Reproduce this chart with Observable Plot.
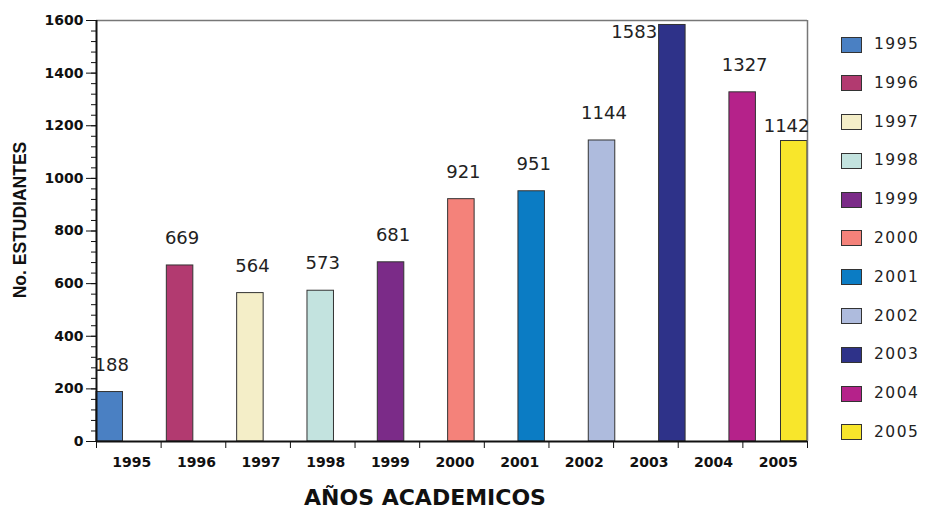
<!DOCTYPE html>
<html>
<head>
<meta charset="utf-8">
<script src="https://cdn.jsdelivr.net/npm/d3@7"></script>
<script src="https://cdn.jsdelivr.net/npm/@observablehq/plot@0.6"></script>
<style>
  body { margin: 0; background: #fff; }
  #wrap { position: relative; width: 926px; height: 508px; font-family: "DejaVu Sans", sans-serif; }
  #legend { position: absolute; left: 841px; top: 37px; }
  .item { display: flex; align-items: center; height: 15px; margin-bottom: 23.8px; }
  .sw { width: 19px; height: 14px; border: 1px solid #333; box-sizing: content-box; margin-right: 12px; }
  .lab { font-size: 15.5px; letter-spacing: 1.5px; color: #222; line-height: 15px; }
</style>
</head>
<body>
<div id="wrap"><div id="chart"></div><div id="legend"></div></div>
<script>
const years = ["1995","1996","1997","1998","1999","2000","2001","2002","2003","2004","2005"];
const students = [188, 669, 564, 573, 681, 921, 951, 1144, 1583, 1327, 1142];
const colors = ["#4a80c3","#b23a70","#f4eec8","#c3e3df","#7b2b88","#f4827a","#0b7cc4","#aebbdd","#2e3289","#b5228a","#f8e62b"];
const yMajorTicks = [0, 200, 400, 600, 800, 1000, 1200, 1400, 1600];
const yTitle = "No. ESTUDIANTES";
const xTitle = "AÑOS ACADEMICOS";

// layout parameters (in x-slot units)
const slots = years.length;
const slotStep = 1.088;
const barWidth = 0.41;

const rows = years.map((year, i) => {
  const x1 = Math.min(i * slotStep, slots - barWidth);
  return {year, value: students[i], color: colors[i], x1, x2: x1 + barWidth, i};
});
const maxV = d3.max(students);
const lastI = years.length - 1;
const normal = rows.filter(d => d.value !== maxV && d.i !== lastI);
const maxRow = rows.filter(d => d.value === maxV);
const lastRow = rows.filter(d => d.i === lastI);

const valueFont = {fontFamily: "DejaVu Sans", fontSize: 18, fill: "#222", style: "letter-spacing:3px"};

const plot = Plot.plot({
  width: 926,
  height: 508,
  marginLeft: 96,
  marginRight: 119,
  marginTop: 20,
  marginBottom: 67,
  style: {background: "#fff", fontFamily: "DejaVu Sans", overflow: "visible"},
  x: {type: "linear", domain: [0, slots], axis: null},
  y: {domain: [0, 1600], axis: null},
  color: {type: "identity"},
  marks: [
    Plot.rectY(rows, {x1: "x1", x2: "x2", y1: 0, y2: "value", fill: "color", stroke: "#333", strokeWidth: 1}),
    // frame top/right
    Plot.ruleY([1600], {stroke: "#777", strokeWidth: 1.5}),
    Plot.ruleX([slots], {stroke: "#777", strokeWidth: 1.5}),
    // minor y ticks
    Plot.axisY({ticks: d3.range(0, 1601, 40), tickSize: 5, text: null, stroke: "#111", label: null}),
    // major y ticks
    Plot.axisY({ticks: yMajorTicks, tickSize: 10, tickPadding: 3, tickFormat: d => String(d),
      fontSize: 14, fontWeight: "bold", fill: "#111", stroke: "#111", label: null,
      style: "letter-spacing:1.5px"}),
    // x ticks at slot boundaries
    Plot.axisX({ticks: d3.range(0, slots + 1), tickSize: 7, text: null, stroke: "#111", label: null}),
    // x labels centered in slots
    Plot.axisX({ticks: d3.range(slots).map(i => i + 0.5), tickSize: 0, tickPadding: 16,
      tickFormat: v => years[Math.floor(v)], fontSize: 14, fontWeight: "bold", fill: "#111",
      label: null, dx: 3, style: "letter-spacing:1px"}),
    // axis lines
    Plot.ruleX([0], {stroke: "#111", strokeWidth: 2, y1: 0, y2: 1600}),
    Plot.ruleY([0], {stroke: "#111", strokeWidth: 2}),
    // value labels
    Plot.text(normal, {x: d => (d.x1 + d.x2) / 2, y: "value", text: d => String(d.value), dy: -27, dx: 2, ...valueFont}),
    Plot.text(maxRow, {x: "x1", y: "value", text: d => String(d.value), textAnchor: "end", dx: -2, dy: 7, ...valueFont}),
    Plot.text(lastRow, {x: "x2", y: "value", text: d => String(d.value), textAnchor: "end", dx: 2, dy: -15, ...valueFont}),
    // titles
    Plot.text([yTitle], {frameAnchor: "left", textAnchor: "middle", rotate: -90, dx: -76, dy: -11, fontFamily: "Liberation Sans",
      fontWeight: "bold", fontSize: 17.5, fill: "#111"}),
    Plot.text([xTitle], {frameAnchor: "bottom", textAnchor: "middle", dx: -27, dy: 63, fontFamily: "DejaVu Sans",
      fontWeight: "bold", fontSize: 22, fill: "#111", style: "letter-spacing:1.5px"})
  ]
});
document.getElementById("chart").appendChild(plot);

const legend = d3.select("#legend");
years.forEach((y, i) => {
  const it = legend.append("div").attr("class", "item");
  it.append("div").attr("class", "sw").style("background", colors[i]);
  it.append("div").attr("class", "lab").text(y);
});
</script>
</body>
</html>
